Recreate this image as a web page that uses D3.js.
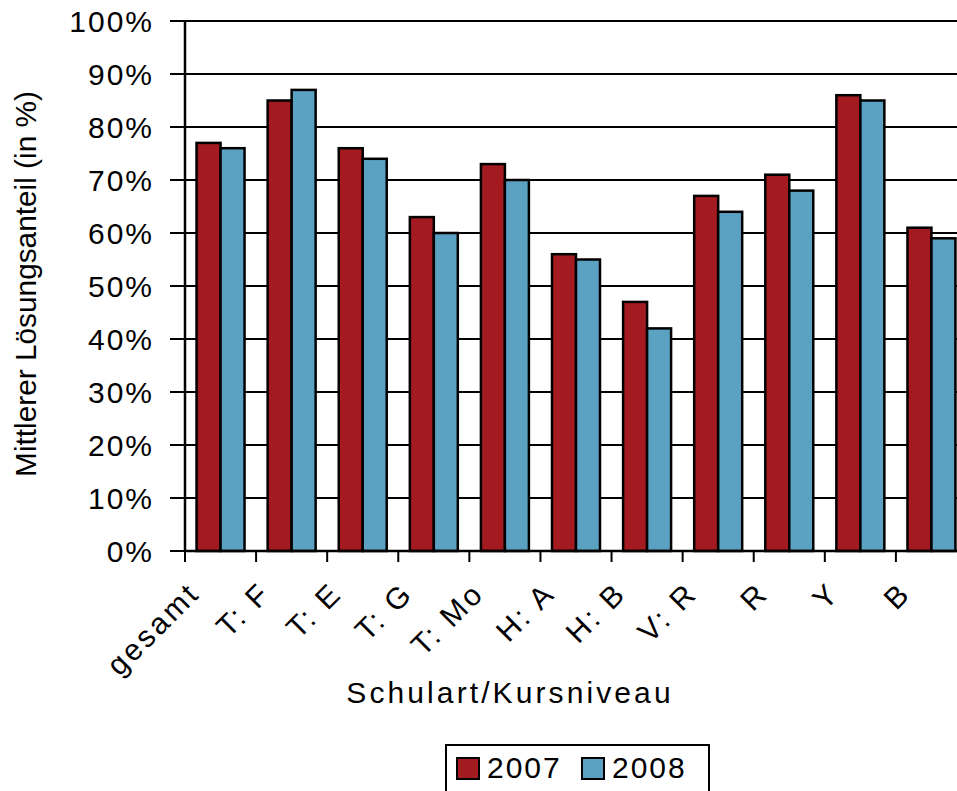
<!DOCTYPE html>
<html><head><meta charset="utf-8">
<script src="https://cdn.jsdelivr.net/npm/d3@7"></script>
<style>
body{margin:0;background:#fff;}
svg{display:block;}
text{font-family:"Liberation Sans",Arial,sans-serif;fill:#000;}
</style></head>
<body>
<svg id="c" width="957" height="791"></svg>
<script>
const categories = ["gesamt","T: F","T: E","T: G","T: Mo","H: A","H: B","V: R","R","Y","B"];
const seriesNames = ["2007","2008"];
const values2007 = [77,85,76,63,73,56,47,67,71,86,61];
const values2008 = [76,87,74,60,70,55,42,64,68,85,59];
const yTicks = [0,10,20,30,40,50,60,70,80,90,100];
const colors = ["#A31B21","#5BA2C2"];

(function(){
const svg = d3.select("#c");
const pL = 185, pR = 967, pT = 21, pB = 551;

const x0 = d3.scaleBand().domain(categories).range([pL, pR]).paddingInner(0.325).paddingOuter(0.1625);
const x1 = d3.scaleBand().domain(seriesNames).range([0, x0.bandwidth()]);
const y = d3.scaleLinear().domain([0,100]).range([pB, pT]);
const step = x0.step();

const g = svg.append("g");
g.selectAll("line.grid").data(yTicks).enter().append("line")
  .attr("x1", pL-15).attr("x2", pR)
  .attr("y1", d=>y(d)).attr("y2", d=>y(d))
  .attr("stroke","#000").attr("stroke-width",2);
g.selectAll("text.yt").data(yTicks).enter().append("text")
  .attr("x", 154).attr("y", d=>y(d)+11)
  .attr("text-anchor","end")
  .attr("font-size","30px").attr("letter-spacing","2px")
  .text(d=>d+"%");

const data = categories.map((c,i)=>({cat:c, vals:[values2007[i], values2008[i]]}));
const groups = svg.append("g").selectAll("g").data(data).enter().append("g")
  .attr("transform", d=>`translate(${x0(d.cat)},0)`);
groups.selectAll("rect").data(d=>d.vals.map((v,j)=>({s:seriesNames[j], v, j}))).enter().append("rect")
  .attr("x", d=>x1(d.s)).attr("width", x1.bandwidth())
  .attr("y", d=>y(d.v)).attr("height", d=>y(0)-y(d.v))
  .attr("fill", d=>colors[d.j]).attr("stroke","#000").attr("stroke-width",2.5);

svg.append("line").attr("x1",pL).attr("x2",pL).attr("y1",pT).attr("y2",pB)
  .attr("stroke","#000").attr("stroke-width",2.5);
svg.append("line").attr("x1",pL).attr("x2",pR).attr("y1",pB).attr("y2",pB)
  .attr("stroke","#000").attr("stroke-width",2.5);
const bounds = d3.range(categories.length+1).map(i=>pL + i*step);
svg.selectAll("line.xt").data(bounds).enter().append("line")
  .attr("x1",d=>d).attr("x2",d=>d).attr("y1",pB).attr("y2",pB+11)
  .attr("stroke","#000").attr("stroke-width",2);

svg.selectAll("text.xl").data(categories).enter().append("text")
  .attr("transform", d=>`translate(${x0(d)+x0.bandwidth()/2-19},595) rotate(-45)`)
  .attr("text-anchor","end")
  .attr("font-size","30px").attr("letter-spacing","3px")
  .text(d=>d);

svg.append("text").attr("x", 510).attr("y", 703).attr("text-anchor","middle")
  .attr("font-size","30px").attr("letter-spacing","3.1px").text("Schulart/Kursniveau");
svg.append("text").attr("transform","translate(36,284) rotate(-90)").attr("text-anchor","middle")
  .attr("font-size","29.8px").text("Mittlerer Lösungsanteil (in %)");

const lg = svg.append("g");
lg.append("rect").attr("x",446).attr("y",745).attr("width",263).attr("height",60)
  .attr("fill","#fff").attr("stroke","#000").attr("stroke-width",2);
const legX = [457, 582];
seriesNames.forEach((s,i)=>{
  lg.append("rect").attr("x",legX[i]).attr("y",758).attr("width",22).attr("height",21)
    .attr("fill",colors[i]).attr("stroke","#000").attr("stroke-width",2);
  lg.append("text").attr("x",legX[i]+30).attr("y",778).attr("font-size","30px")
    .attr("letter-spacing","2px").text(s);
});
})();
</script>
</body></html>
